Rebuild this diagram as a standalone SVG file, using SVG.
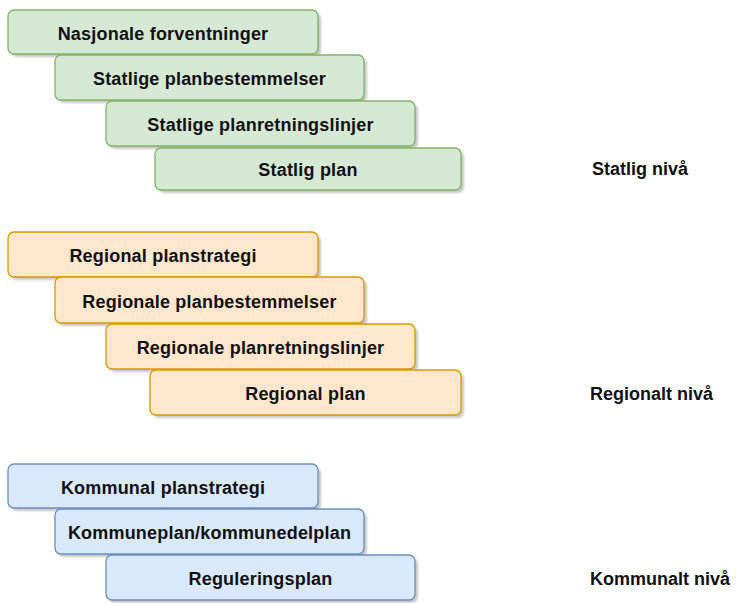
<svg xmlns="http://www.w3.org/2000/svg" width="736" height="603" viewBox="0 0 736 603">
  <style>
    .box { stroke-width: 1.3; }
    .shadow { fill: #000; opacity: 0.22; }
    .g { fill: #d5e8d4; stroke: #82b366; }
    .o { fill: #ffe6cc; stroke: #d79b00; }
    .b { fill: #dae8fc; stroke: #6c8ebf; }
    .lbl { font-family: "Liberation Sans", Arial, sans-serif; font-size: 18px; font-weight: bold; fill: #111; text-anchor: middle; letter-spacing: 0.2px; }
    .lvl { font-family: "Liberation Sans", Arial, sans-serif; font-size: 18px; font-weight: bold; fill: #111; }
  </style>
  <defs>
    <filter id="soft" x="-10%" y="-20%" width="120%" height="140%">
      <feGaussianBlur stdDeviation="1"/>
    </filter>
  </defs>
  <rect width="736" height="603" fill="#fff"/>

  <!-- Statlig nivå -->
  <g id="nasjonale-forventninger">
    <rect class="shadow" filter="url(#soft)" x="11" y="13" width="310" height="44" rx="6"/>
    <rect class="box g" x="8" y="10" width="310" height="44" rx="6"/>
    <text class="lbl" x="163" y="40">Nasjonale forventninger</text>
  </g>
  <g id="statlige-planbestemmelser">
    <rect class="shadow" filter="url(#soft)" x="58" y="58" width="309" height="45" rx="6"/>
    <rect class="box g" x="55" y="55" width="309" height="45" rx="6"/>
    <text class="lbl" x="209.5" y="85">Statlige planbestemmelser</text>
  </g>
  <g id="statlige-planretningslinjer">
    <rect class="shadow" filter="url(#soft)" x="109" y="104" width="309" height="45" rx="6"/>
    <rect class="box g" x="106" y="101" width="309" height="45" rx="6"/>
    <text class="lbl" x="260.5" y="131">Statlige planretningslinjer</text>
  </g>
  <g id="statlig-plan">
    <rect class="shadow" filter="url(#soft)" x="158" y="151" width="306" height="42" rx="6"/>
    <rect class="box g" x="155" y="148" width="306" height="42" rx="6"/>
    <text class="lbl" x="308" y="176">Statlig plan</text>
  </g>
  <g id="statlig-niva">
    <text class="lvl" x="592" y="175">Statlig nivå</text>
  </g>

  <!-- Regionalt nivå -->
  <g id="regional-planstrategi">
    <rect class="shadow" filter="url(#soft)" x="11" y="235" width="310" height="45" rx="6"/>
    <rect class="box o" x="8" y="232" width="310" height="45" rx="6"/>
    <text class="lbl" x="163" y="262">Regional planstrategi</text>
  </g>
  <g id="regionale-planbestemmelser">
    <rect class="shadow" filter="url(#soft)" x="58" y="280" width="309" height="46" rx="6"/>
    <rect class="box o" x="55" y="277" width="309" height="46" rx="6"/>
    <text class="lbl" x="209.5" y="308">Regionale planbestemmelser</text>
  </g>
  <g id="regionale-planretningslinjer">
    <rect class="shadow" filter="url(#soft)" x="109" y="327" width="309" height="45" rx="6"/>
    <rect class="box o" x="106" y="324" width="309" height="45" rx="6"/>
    <text class="lbl" x="260.5" y="354">Regionale planretningslinjer</text>
  </g>
  <g id="regional-plan">
    <rect class="shadow" filter="url(#soft)" x="153" y="373" width="311" height="45" rx="6"/>
    <rect class="box o" x="150" y="370" width="311" height="45" rx="6"/>
    <text class="lbl" x="305.5" y="400">Regional plan</text>
  </g>
  <g id="regionalt-niva">
    <text class="lvl" x="590" y="400">Regionalt nivå</text>
  </g>

  <!-- Kommunalt nivå -->
  <g id="kommunal-planstrategi">
    <rect class="shadow" filter="url(#soft)" x="11" y="467" width="310" height="44" rx="6"/>
    <rect class="box b" x="8" y="464" width="310" height="44" rx="6"/>
    <text class="lbl" x="163" y="494">Kommunal planstrategi</text>
  </g>
  <g id="kommuneplan">
    <rect class="shadow" filter="url(#soft)" x="58" y="512" width="309" height="45" rx="6"/>
    <rect class="box b" x="55" y="509" width="309" height="45" rx="6"/>
    <text class="lbl" x="209.5" y="539">Kommuneplan/kommunedelplan</text>
  </g>
  <g id="reguleringsplan">
    <rect class="shadow" filter="url(#soft)" x="109" y="558" width="309" height="45" rx="6"/>
    <rect class="box b" x="106" y="555" width="309" height="45" rx="6"/>
    <text class="lbl" x="260.5" y="585">Reguleringsplan</text>
  </g>
  <g id="kommunalt-niva">
    <text class="lvl" x="590" y="585">Kommunalt nivå</text>
  </g>

  <g id="connectors"/>
</svg>
